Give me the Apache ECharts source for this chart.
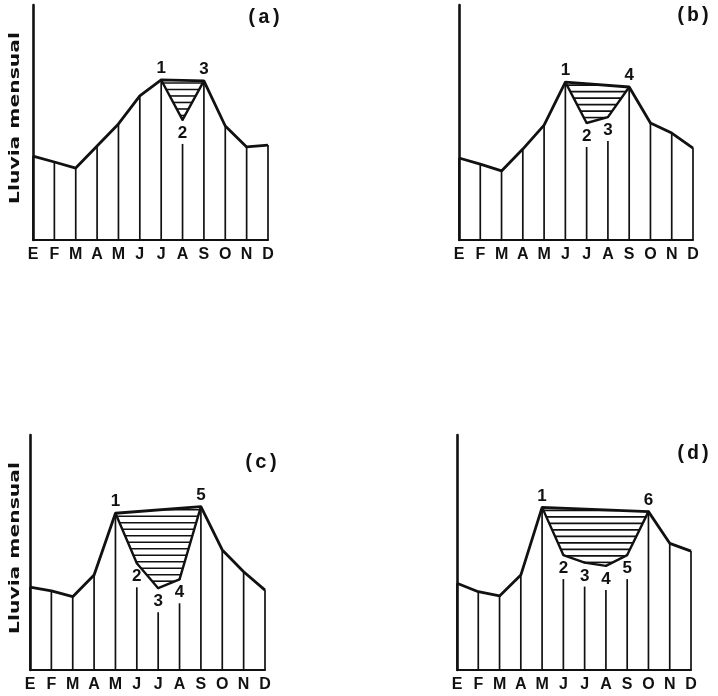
<!DOCTYPE html>
<html>
<head>
<meta charset="utf-8">
<script src="https://cdn.jsdelivr.net/npm/echarts@6/dist/echarts.min.js"></script>
<style>
  html, body { margin: 0; padding: 0; background: #fff; }
  #chart { width: 718px; height: 696px; }
</style>
</head>
<body>
<div id="chart"></div>
<script>
// Month initials (Spanish): Enero ... Diciembre
const months = ['E', 'F', 'M', 'A', 'M', 'J', 'J', 'A', 'S', 'O', 'N', 'D'];

// Monthly rainfall in relative units (0-100) for four idealised regimes
const rainA = [35.7, 33.2, 30.6, 40.0, 49.4, 61.3, 68.1, 51.1, 67.7, 48.5, 39.6, 40.4];
const rainB = [34.9, 32.3, 29.4, 38.7, 48.9, 67.2, 49.8, 52.3, 65.1, 49.8, 45.5, 39.1];
const rainC = [35.3, 33.7, 31.2, 40.4, 66.7, 45.4, 34.8, 38.6, 69.5, 51.1, 41.8, 34.0];
const rainD = [36.9, 33.3, 31.5, 40.4, 69.2, 48.9, 45.7, 44.3, 48.9, 67.4, 53.9, 50.6];

// First and last month (index) bounding the mid-summer dip in each regime
const dipA = [6, 8];
const dipB = [5, 8];
const dipC = [4, 8];
const dipD = [4, 9];

const panelTitles = ['(a)', '(b)', '(c)', '(d)'];
const yTitle = 'Lluvia mensual';

const INK = '#111';
const STEM_GAP = 24;      // px left open under an interior dip point for its number
const HATCH_STEP = 6.5;   // px between hatch lines

const panels = [
  { rain: rainA, dip: dipA, grid: { left: 33,  top: 5,   width: 235, height: 235 } },
  { rain: rainB, dip: dipB, grid: { left: 459, top: 5,   width: 234, height: 235 } },
  { rain: rainC, dip: dipC, grid: { left: 30,  top: 435, width: 235, height: 235 } },
  { rain: rainD, dip: dipD, grid: { left: 457, top: 435, width: 234, height: 235 } }
];

const isInner = (i, dip) => i > dip[0] && i < dip[1];

const grid = [], xAxis = [], yAxis = [], series = [];

panels.forEach((p, k) => {
  const vals = p.rain, dip = p.dip;
  grid.push(p.grid);
  xAxis.push({
    type: 'category', gridIndex: k, data: months, boundaryGap: false,
    axisLine: { show: true, lineStyle: { color: INK, width: 2.2 } },
    axisTick: { show: false },
    splitLine: { show: false },
    axisLabel: {
      color: INK, fontFamily: 'Liberation Sans', fontWeight: 'bold',
      fontSize: 16, margin: 7, interval: 0
    }
  });
  yAxis.push({
    type: 'value', gridIndex: k, min: 0, max: 100,
    axisLine: { show: true, lineStyle: { color: INK, width: 2.6 } },
    axisTick: { show: false }, axisLabel: { show: false }, splitLine: { show: false }
  });

  // vertical month stems
  series.push({
    type: 'custom', xAxisIndex: k, yAxisIndex: k, silent: true, z: 1,
    data: vals.map((v, i) => [i, v, isInner(i, dip) ? 1 : 0]),
    renderItem: (params, api) => {
      const top = api.coord([api.value(0), api.value(1)]);
      const base = api.coord([api.value(0), 0]);
      const y1 = api.value(2) ? top[1] + STEM_GAP : top[1];
      return {
        type: 'line',
        shape: { x1: top[0], y1: y1, x2: top[0], y2: base[1] },
        style: { stroke: INK, lineWidth: 1.7 }
      };
    }
  });

  // horizontal hatching between the peak-to-peak chord and the dip
  series.push({
    type: 'custom', xAxisIndex: k, yAxisIndex: k, silent: true, z: 2,
    data: [[dip[0], vals[dip[0]]]],
    renderItem: (params, api) => {
      const poly = [api.coord([dip[0], vals[dip[0]]]), api.coord([dip[1], vals[dip[1]]])];
      for (let i = dip[1] - 1; i > dip[0]; i--) poly.push(api.coord([i, vals[i]]));
      let minY = Infinity, maxY = -Infinity;
      poly.forEach(q => { minY = Math.min(minY, q[1]); maxY = Math.max(maxY, q[1]); });
      const children = [];
      for (let y = minY + 3; y < maxY - 1; y += HATCH_STEP) {
        const xs = [];
        for (let e = 0; e < poly.length; e++) {
          const a = poly[e], b = poly[(e + 1) % poly.length];
          if ((a[1] <= y && b[1] > y) || (b[1] <= y && a[1] > y)) {
            xs.push(a[0] + (y - a[1]) * (b[0] - a[0]) / (b[1] - a[1]));
          }
        }
        xs.sort((m, n) => m - n);
        for (let j = 0; j + 1 < xs.length; j += 2) {
          children.push({
            type: 'line',
            shape: { x1: xs[j], y1: y, x2: xs[j + 1], y2: y },
            style: { stroke: INK, lineWidth: 1.6 }
          });
        }
      }
      return { type: 'group', children: children };
    }
  });

  // outer rainfall envelope (chord straight across the dip)
  series.push({
    type: 'line', xAxisIndex: k, yAxisIndex: k, z: 3, silent: true,
    data: vals.map((v, i) => isInner(i, dip) ? null : v),
    connectNulls: true, symbol: 'none',
    lineStyle: { color: INK, width: 2.8 }
  });

  // the dip itself, with numbered points
  series.push({
    type: 'line', xAxisIndex: k, yAxisIndex: k, z: 4, silent: true,
    data: vals.map((v, i) => {
      if (i < dip[0] || i > dip[1]) return null;
      const end = i === dip[0] || i === dip[1];
      return {
        value: v,
        label: {
          position: end ? 'top' : 'bottom',
          distance: end ? 2 : 4,
          formatter: String(i - dip[0] + 1)
        }
      };
    }),
    symbol: 'circle', symbolSize: 2, showSymbol: true,
    itemStyle: { color: INK },
    lineStyle: { color: INK, width: 2.4 },
    label: {
      show: true, color: INK, fontFamily: 'Liberation Sans',
      fontWeight: 'bold', fontSize: 17
    }
  });
});

const titlePos = [[264, 18], [693, 16], [261, 463], [693, 454]];
const yTitlePos = [[15, 118], [15, 548]];

const graphic = [];
panelTitles.forEach((t, k) => {
  graphic.push({
    type: 'text', x: titlePos[k][0], y: titlePos[k][1], silent: true,
    style: {
      text: t, fill: INK, font: 'bold 20px "Liberation Mono"',
      textAlign: 'center', textVerticalAlign: 'middle'
    }
  });
});
yTitlePos.forEach(pos => {
  graphic.push({
    type: 'text', x: pos[0], y: pos[1], rotation: Math.PI / 2, scaleX: 1.45, silent: true,
    style: {
      text: yTitle, fill: INK, font: 'bold 14px "DejaVu Sans"',
      textAlign: 'center', textVerticalAlign: 'middle'
    }
  });
});

const chart = echarts.init(document.getElementById('chart'), null, { renderer: 'canvas' });
chart.setOption({
  animation: false,
  backgroundColor: '#fff',
  grid: grid,
  xAxis: xAxis,
  yAxis: yAxis,
  series: series,
  graphic: graphic
});
</script>
</body>
</html>
